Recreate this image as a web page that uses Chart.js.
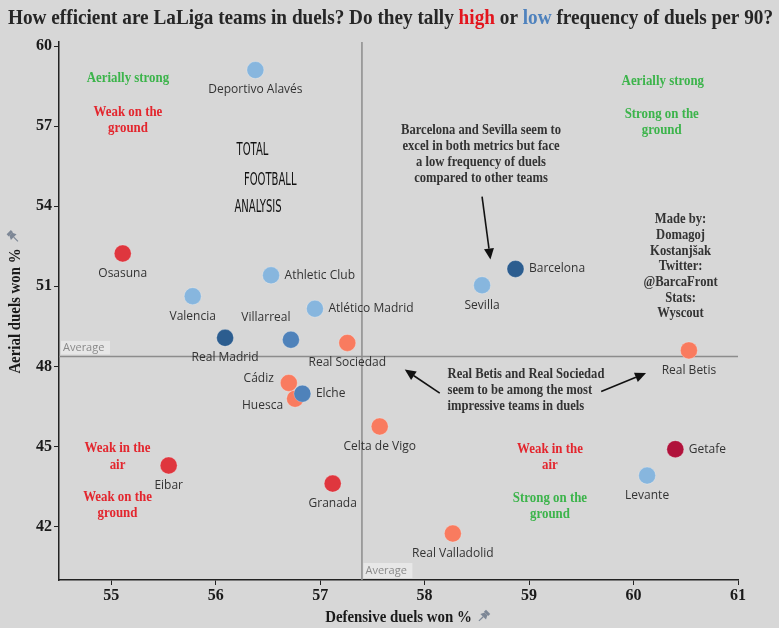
<!DOCTYPE html>
<html>
<head>
<meta charset="utf-8">
<script src="https://cdn.jsdelivr.net/npm/chart.js@4.4.1/dist/chart.umd.min.js"></script>
<style>
  html, body { margin: 0; padding: 0; background: #d7d7d7; }
  canvas { display: block; }
</style>
</head>
<body>
<canvas id="chart" width="779" height="628"></canvas>
<script>
// Teams (x = defensive duels won %, y = aerial duels won %)
const teams = ["Deportivo Alavés", "Osasuna", "Athletic Club", "Valencia", "Atlético Madrid",
  "Real Madrid", "Villarreal", "Real Sociedad", "Huesca", "Cádiz", "Elche", "Celta de Vigo",
  "Eibar", "Granada", "Real Valladolid", "Levante", "Getafe", "Real Betis", "Sevilla", "Barcelona"]
const defensiveWon = [56.38, 55.11, 56.53, 55.78, 56.95, 56.09, 56.72, 57.26, 56.76, 56.70,
  56.83, 57.57, 55.55, 57.12, 58.27, 60.13, 60.40, 60.53, 58.55, 58.87]
const aerialWon = [59.10, 52.23, 51.41, 50.63, 50.16, 49.07, 49.00, 48.88, 46.79, 47.38,
  46.98, 45.75, 44.29, 43.61, 41.74, 43.91, 44.90, 48.60, 51.04, 51.65]
// duel frequency per 90, as colour tier: -3 lowest (dark blue) .. +3 highest (dark red)
const freqTier = [-1, 2, -1, -1, -1, -3, -2, 1, 1, 1, -2, 1, 2, 2, 1, -1, 3, 1, -1, -3]

const xTicks = [55, 56, 57, 58, 59, 60, 61]
const yTicks = [42, 45, 48, 51, 54, 57, 60]
const avgDefensive = 57.40
const avgAerial = 48.375

const palette = { "-3": "#2c5d8f", "-2": "#4f82ba", "-1": "#87b6de", "1": "#f97b5f", "2": "#df363e", "3": "#b0123b" }

// where each name sits relative to its dot
const labelPlace = {
  "Athletic Club": "right", "Atlético Madrid": "right", "Elche": "right",
  "Getafe": "right", "Barcelona": "right", "Cádiz": "left", "Huesca": "leftBelow",
  "Villarreal": "aboveLeft"
}

const SERIF = "'Liberation Serif', 'DejaVu Serif', serif"
const SANS = "'Open Sans', 'DejaVu Sans', sans-serif"

// text notes placed in data coordinates
const quadrantNotes = [
  { lines: ["Aerially strong"], color: "#3cb44b", x: 55.16, y: 58.78 },
  { lines: ["Weak on the", "ground"], color: "#e3262e", x: 55.16, y: 57.22 },
  { lines: ["Aerially strong"], color: "#3cb44b", x: 60.28, y: 58.68 },
  { lines: ["Strong on the", "ground"], color: "#3cb44b", x: 60.27, y: 57.14 },
  { lines: ["Weak in the", "air"], color: "#e3262e", x: 55.06, y: 44.61 },
  { lines: ["Weak on the", "ground"], color: "#e3262e", x: 55.06, y: 42.80 },
  { lines: ["Weak in the", "air"], color: "#e3262e", x: 59.20, y: 44.60 },
  { lines: ["Strong on the", "ground"], color: "#3cb44b", x: 59.20, y: 42.76 }
]

const barcaNote = ["Barcelona and Sevilla seem to", "excel in both metrics but face",
  "a low frequency of duels", "compared to other teams"]
const betisNote = ["Real Betis and Real Sociedad", "seem to be among the most", "impressive teams in duels"]
const creditNote = ["Made by:", "Domagoj", "Kostanjšak", "Twitter:", "@BarcaFront", "Stats:", "Wyscout"]

function squeezeText(ctx, text, x, y, sx, align) {
  const w = ctx.measureText(text).width * sx
  let left = x
  if (align === "center") left = x - w / 2
  else if (align === "right") left = x - w
  ctx.save()
  ctx.translate(left, y)
  ctx.scale(sx, 1)
  ctx.textAlign = "left"
  ctx.fillText(text, 0, 0)
  ctx.restore()
  return w
}

function arrow(ctx, x1, y1, x2, y2) {
  const ang = Math.atan2(y2 - y1, x2 - x1)
  const head = 11, half = 5
  ctx.save()
  ctx.strokeStyle = "#111"
  ctx.fillStyle = "#111"
  ctx.lineWidth = 1.6
  ctx.beginPath()
  ctx.moveTo(x1, y1)
  ctx.lineTo(x2 - Math.cos(ang) * head, y2 - Math.sin(ang) * head)
  ctx.stroke()
  ctx.beginPath()
  ctx.moveTo(x2, y2)
  ctx.lineTo(x2 - Math.cos(ang) * head + Math.sin(ang) * half, y2 - Math.sin(ang) * head - Math.cos(ang) * half)
  ctx.lineTo(x2 - Math.cos(ang) * head - Math.sin(ang) * half, y2 - Math.sin(ang) * head + Math.cos(ang) * half)
  ctx.closePath()
  ctx.fill()
  ctx.restore()
}

function pin(ctx, x, y, rot) {
  ctx.save()
  ctx.translate(x, y)
  ctx.rotate(rot)
  ctx.fillStyle = "#7d8796"
  ctx.strokeStyle = "#7d8796"
  ctx.fillRect(-3, -6, 6, 3)
  ctx.beginPath()
  ctx.moveTo(-2, -3); ctx.lineTo(2, -3); ctx.lineTo(4, 1); ctx.lineTo(-4, 1)
  ctx.closePath()
  ctx.fill()
  ctx.lineWidth = 1.2
  ctx.beginPath()
  ctx.moveTo(0, 1); ctx.lineTo(0, 7)
  ctx.stroke()
  ctx.restore()
}

const decor = {
  id: "decor",
  beforeDatasetsDraw(chart) {
    const { ctx, chartArea: a, scales: { x, y } } = chart
    const ax = x.getPixelForValue(avgDefensive)
    const ay = y.getPixelForValue(avgAerial)
    ctx.save()
    ctx.strokeStyle = "#8c8c8c"
    ctx.lineWidth = 1.5
    ctx.beginPath()
    ctx.moveTo(a.left, ay); ctx.lineTo(a.right, ay)
    ctx.moveTo(ax, a.top); ctx.lineTo(ax, a.bottom)
    ctx.stroke()

    // "Average" tags
    ctx.font = "11px " + SANS
    ctx.textBaseline = "middle"
    ctx.fillStyle = "#e7e7e7"
    ctx.fillRect(a.left + 2, ay - 15.5, 49, 13.5)
    ctx.fillRect(ax + 1.5, a.bottom - 17, 49, 15)
    ctx.fillStyle = "#8a8a8a"
    ctx.fillText("Average", a.left + 4, ay - 8.5)
    ctx.fillText("Average", ax + 3.5, a.bottom - 9.5)

    // quadrant notes
    ctx.font = "bold 14px " + SERIF
    quadrantNotes.forEach(n => {
      const cx = x.getPixelForValue(n.x)
      const cy = y.getPixelForValue(n.y)
      const lh = 16.5
      const top = cy - (n.lines.length - 1) * lh / 2
      ctx.fillStyle = n.color
      n.lines.forEach((l, i) => squeezeText(ctx, l, cx, top + i * lh, 0.92, "center"))
    })

    // logo
    ctx.fillStyle = "#111"
    ctx.textBaseline = "alphabetic"
    ctx.font = "18px 'DejaVu Sans Condensed', 'DejaVu Sans', sans-serif"
    squeezeText(ctx, "TOTAL", x.getPixelForValue(56.2), y.getPixelForValue(55.9), 0.62, "left")
    squeezeText(ctx, "FOOTBALL", x.getPixelForValue(56.27), y.getPixelForValue(54.78), 0.62, "left")
    squeezeText(ctx, "ANALYSIS", x.getPixelForValue(56.18), y.getPixelForValue(53.8), 0.62, "left")
    ctx.restore()
  },
  afterDatasetsDraw(chart) {
    const { ctx, scales: { x, y } } = chart
    ctx.save()
    ctx.font = "12px " + SANS
    ctx.fillStyle = "#333"
    ctx.textBaseline = "middle"
    teams.forEach((t, i) => {
      const px = x.getPixelForValue(defensiveWon[i])
      const py = y.getPixelForValue(aerialWon[i])
      const where = labelPlace[t] || "below"
      if (where === "right") { ctx.textAlign = "left"; ctx.fillText(t, px + 13.5, py) }
      else if (where === "left") { ctx.textAlign = "right"; ctx.fillText(t, px - 15, py - 4) }
      else if (where === "leftBelow") { ctx.textAlign = "right"; ctx.fillText(t, px - 12, py + 7) }
      else if (where === "aboveLeft") { ctx.textAlign = "center"; ctx.fillText(t, px - 25, py - 22) }
      else { ctx.textAlign = "center"; ctx.fillText(t, px, py + 20) }
    })

    // annotations
    ctx.fillStyle = "#333"
    ctx.font = "bold 14px " + SERIF
    const bx = x.getPixelForValue(58.54), by = y.getPixelForValue(55.94)
    barcaNote.forEach((l, i) => squeezeText(ctx, l, bx, by + (i - 1.5) * 15.8, 0.9, "center"))
    arrow(ctx, x.getPixelForValue(58.55), y.getPixelForValue(54.36), x.getPixelForValue(58.63), y.getPixelForValue(52.0))

    const lx = x.getPixelForValue(58.22), ly = y.getPixelForValue(47.09)
    betisNote.forEach((l, i) => squeezeText(ctx, l, lx, ly + (i - 1) * 16, 0.9, "left"))
    arrow(ctx, x.getPixelForValue(58.145), y.getPixelForValue(47.0), x.getPixelForValue(57.81), y.getPixelForValue(47.88))
    arrow(ctx, x.getPixelForValue(59.69), y.getPixelForValue(47.06), x.getPixelForValue(60.12), y.getPixelForValue(47.75))

    const cx = x.getPixelForValue(60.45), cy = y.getPixelForValue(53.5)
    creditNote.forEach((l, i) => squeezeText(ctx, l, cx, cy + i * 15.7, 0.9, "center"))
    ctx.restore()
  },
  afterDraw(chart) {
    const { ctx, chartArea: a } = chart
    ctx.save()
    // title with coloured words
    ctx.font = "bold 21px " + SERIF
    ctx.textBaseline = "alphabetic"
    const parts = [
      ["How efficient are LaLiga teams in duels? Do they tally ", "#262626"],
      ["high", "#e3151d"], [" or ", "#262626"], ["low", "#4f82bd"],
      [" frequency of duels per 90?", "#262626"]
    ]
    const full = parts.map(p => p[0]).join("")
    const sx = 765 / ctx.measureText(full).width
    let tx = 8
    parts.forEach(([s, c]) => { ctx.fillStyle = c; tx += squeezeText(ctx, s, tx, 24, sx, "left") })

    // axis titles
    ctx.fillStyle = "#1a1a1a"
    ctx.font = "bold 16px " + SERIF
    const midX = (a.left + a.right) / 2
    const w = squeezeText(ctx, "Defensive duels won %", midX, 622, 0.93, "center")
    pin(ctx, midX + w / 2 + 12, 616, Math.PI / 4)
    ctx.save()
    ctx.translate(20, (a.top + a.bottom) / 2)
    ctx.rotate(-Math.PI / 2)
    const wy = squeezeText(ctx, "Aerial duels won %", 0, 0, 0.93, "center")
    ctx.restore()
    pin(ctx, 13, (a.top + a.bottom) / 2 - wy / 2 - 12, -Math.PI / 4)
    ctx.restore()
  }
}

const axisFont = { family: "'Liberation Serif', 'DejaVu Serif', serif", size: 16, weight: "bold" }

new Chart(document.getElementById("chart"), {
  type: "scatter",
  data: {
    datasets: [{
      data: teams.map((t, i) => ({ x: defensiveWon[i], y: aerialWon[i] })),
      backgroundColor: freqTier.map(t => palette[t]),
      borderColor: "rgba(255, 255, 255, 0.25)",
      borderWidth: 1,
      pointRadius: 8.5,
      pointHoverRadius: 8.5
    }]
  },
  options: {
    responsive: false,
    animation: false,
    events: [],
    layout: { padding: { top: 42, right: 41, left: 0, bottom: 0 } },
    plugins: { legend: { display: false }, tooltip: { enabled: false } },
    scales: {
      x: {
        type: "linear", min: 54.5, max: 61,
        afterBuildTicks: s => { s.ticks = xTicks.map(v => ({ value: v })) },
        afterFit: s => { s.height = 48 },
        grid: { drawOnChartArea: false, drawTicks: true, tickLength: 5, color: "#222" },
        border: { display: true, color: "#222", width: 1.5 },
        ticks: { font: axisFont, color: "#1a1a1a", padding: 1 }
      },
      y: {
        type: "linear", min: 40, max: 60.15,
        afterBuildTicks: s => { s.ticks = yTicks.map(v => ({ value: v })) },
        afterFit: s => { s.width = 59 },
        grid: { drawOnChartArea: false, drawTicks: true, tickLength: 5, color: "#222" },
        border: { display: true, color: "#222", width: 1.5 },
        ticks: { font: axisFont, color: "#1a1a1a", padding: 2 }
      }
    }
  },
  plugins: [decor]
})
</script>
</body>
</html>
